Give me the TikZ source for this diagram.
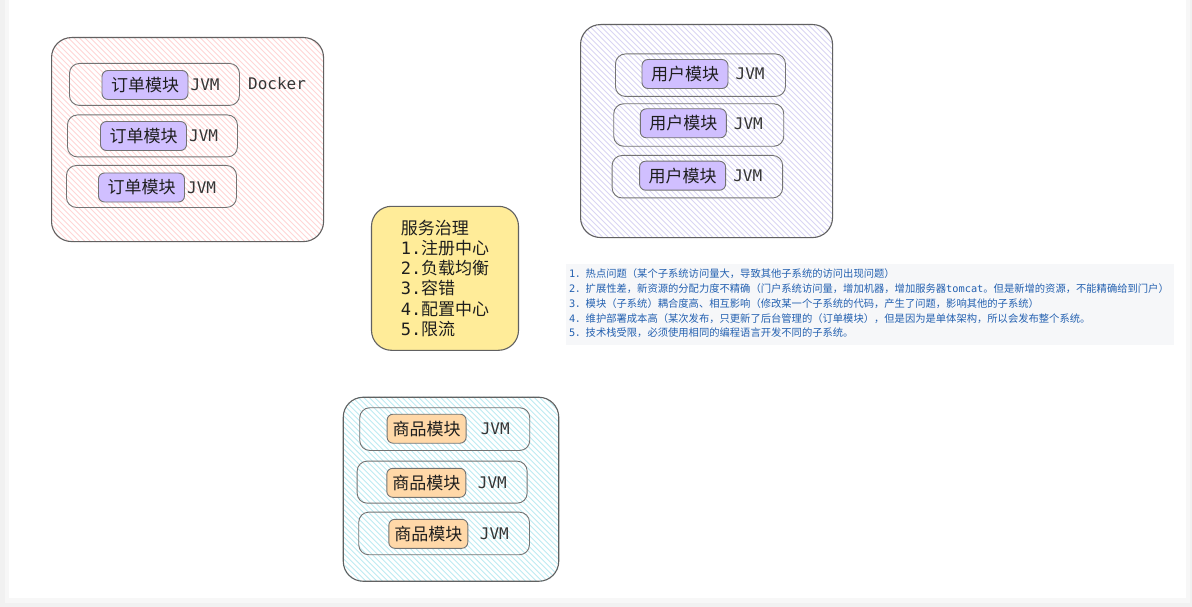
\documentclass[tikz,border=0pt]{standalone}
\usepackage{fontspec}
\setmainfont{Noto Sans CJK SC}
\newfontfamily\cjk{Noto Sans CJK SC}
\newfontfamily\mono{DejaVu Sans Mono}
\usetikzlibrary{backgrounds}
\definecolor{ink}{HTML}{1E1E1E}
\definecolor{pinkhatch}{HTML}{FFD6D6}
\definecolor{lavhatch}{HTML}{D9D5F3}
\definecolor{cyanhatch}{HTML}{BDEBF2}
\definecolor{modpurple}{HTML}{D0BFFF}
\definecolor{modorange}{HTML}{FFD8A8}
\definecolor{noteyellow}{HTML}{FFEC99}
\definecolor{notetext}{HTML}{2360B0}
\definecolor{notebg}{HTML}{F6F7F9}
\definecolor{pagebg}{HTML}{F1F1F1}
\tikzset{
  grp/.style={draw=black!62, line width=1.1pt, rounded corners=20pt, anchor=north west, inner sep=0pt},
  rowbox/.style={draw=black!55, line width=0.9pt, rounded corners=10pt, anchor=north west, inner sep=0pt},
  modbox/.style={draw=black!55, line width=0.9pt, rounded corners=6pt, inner sep=0pt, minimum height=29pt,
    font=\cjk\fontsize{17}{20}\selectfont, text=ink},
  purplemod/.style={modbox, fill=modpurple, minimum width=86pt},
  orangemod/.style={modbox, fill=modorange, minimum width=79pt},
  jvm/.style={font=\mono\fontsize{16}{18}\selectfont, text=ink!90, anchor=west, inner sep=0pt},
  hatchline/.style={line width=0.8pt},
}
\newcommand{\hatchnode}[2]{%
  \begin{scope}
    \clip[rounded corners=20pt] (#1.north west) rectangle (#1.south east);
    \foreach \k in {-320,-314.5,...,320}
      \draw[hatchline, #2] ([xshift=\k pt]#1.center) ++(-220pt,220pt) -- ++(440pt,-440pt);
  \end{scope}}
\begin{document}
\begin{tikzpicture}[x=1pt,y=-1pt]
\useasboundingbox (0,0) rectangle (1192,607);

% ---- group 1 : orders (Docker) ----
\node[grp, minimum width=272pt, minimum height=204pt] (g1) at (51,37) {};
\node[rowbox, minimum width=170pt, minimum height=42pt] (r11) at (69,63) {};
\node[rowbox, minimum width=170pt, minimum height=42pt] (r12) at (67,114.5) {};
\node[rowbox, minimum width=170pt, minimum height=42pt] (r13) at (66,165) {};
\node[purplemod] (m11) at (145,85) {订单模块};
\node[purplemod] (m12) at (143.5,136) {订单模块};
\node[purplemod] (m13) at (141.5,187.5) {订单模块};
\node[jvm] (j11) at ([xshift=2pt]m11.east) {JVM};
\node[jvm] (j12) at ([xshift=2pt]m12.east) {JVM};
\node[jvm] (j13) at ([xshift=2pt]m13.east) {JVM};
\node[jvm] (docker) at (248,83.5) {Docker};

% ---- group 2 : users ----
\node[grp, minimum width=252pt, minimum height=213pt] (g2) at (580,24) {};
\node[rowbox, minimum width=170pt, minimum height=42.5pt] (r21) at (615,53.5) {};
\node[rowbox, minimum width=170pt, minimum height=42.5pt] (r22) at (613.3,103.3) {};
\node[rowbox, minimum width=170.5pt, minimum height=42.5pt] (r23) at (611.7,155) {};
\node[purplemod] (m21) at (685,74) {用户模块};
\node[purplemod] (m22) at (683.3,123.3) {用户模块};
\node[purplemod] (m23) at (682.6,175.7) {用户模块};
\node[jvm] (j21) at ([xshift=7pt]m21.east) {JVM};
\node[jvm] (j22) at ([xshift=7pt]m22.east) {JVM};
\node[jvm] (j23) at ([xshift=7pt]m23.east) {JVM};

% ---- service governance note ----
\node[draw=black!62, line width=1.1pt, fill=noteyellow, rounded corners=20pt,
      minimum width=147pt, minimum height=144pt, inner sep=0pt, align=left, text=ink,
      font=\cjk\fontsize{17}{20.3}\selectfont] (gov) at (445,278.3)
  {服务治理\\{\mono 1.}注册中心\\{\mono 2.}负载均衡\\{\mono 3.}容错\\{\mono 4.}配置中心\\{\mono 5.}限流};

% ---- problems list ----
\node[fill=notebg, anchor=north west, minimum width=608pt, minimum height=81pt, inner sep=0pt] (listbg) at (566,264) {};
\node[anchor=west, inner sep=0pt, align=left, text=notetext,
      font=\cjk\fontsize{10.3}{14.75}\selectfont] (list) at (569,303.5)
  {{\mono 1}．热点问题（某个子系统访问量大，导致其他子系统的访问出现问题）\\
   {\mono 2}．扩展性差，新资源的分配力度不精确（门户系统访问量，增加机器，增加服务器{\mono tomcat}。但是新增的资源，不能精确给到门户）\\
   {\mono 3}．模块（子系统）耦合度高、相互影响（修改某一个子系统的代码，产生了问题，影响其他的子系统）\\
   {\mono 4}．维护部署成本高（某次发布，只更新了后台管理的（订单模块），但是因为是单体架构，所以会发布整个系统。\\
   {\mono 5}．技术栈受限，必须使用相同的编程语言开发不同的子系统。};

% ---- group 3 : products ----
\node[grp, minimum width=215.5pt, minimum height=184pt] (g3) at (342.7,396.7) {};
\node[rowbox, minimum width=170pt, minimum height=42.7pt] (r31) at (359.3,407.3) {};
\node[rowbox, minimum width=170pt, minimum height=42pt] (r32) at (356.7,460.7) {};
\node[rowbox, minimum width=170.7pt, minimum height=42.6pt] (r33) at (358.3,511.7) {};
\node[orangemod] (m31) at (426.6,428.7) {商品模块};
\node[orangemod] (m32) at (426.3,482.8) {商品模块};
\node[orangemod] (m33) at (428.3,533.8) {商品模块};
\node[jvm] (j31) at ([xshift=14pt]m31.east) {JVM};
\node[jvm] (j32) at ([xshift=11.5pt]m32.east) {JVM};
\node[jvm] (j33) at ([xshift=11.5pt]m33.east) {JVM};

% ---- page card and hatching (behind everything) ----
\begin{pgfonlayer}{background}
  \fill[pagebg] (0,0) rectangle (1192,607);
  \fill[black!3] (5,0) rectangle (1190,603);
  \fill[white] (9,0) rectangle (1186,598);
  \hatchnode{g1}{pinkhatch}
  \hatchnode{g2}{lavhatch}
  \hatchnode{g3}{cyanhatch}
\end{pgfonlayer}
\end{tikzpicture}
\end{document}
